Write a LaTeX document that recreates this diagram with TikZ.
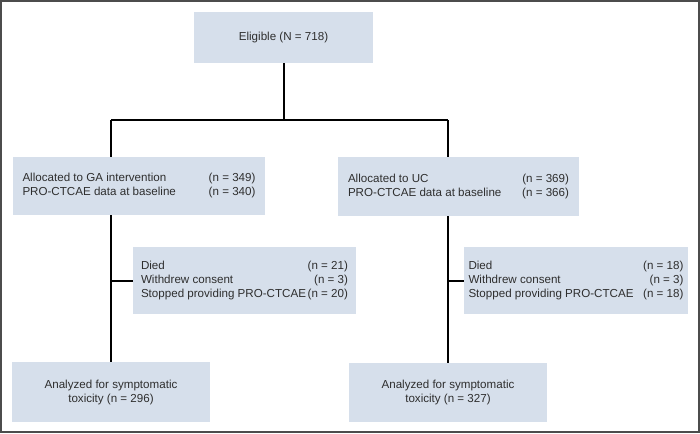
\documentclass[tikz,border=0pt]{standalone}
\usepackage{fontspec}
\setmainfont{Liberation Sans}
\usetikzlibrary{backgrounds}
\definecolor{boxfill}{HTML}{D6DFEB}
\definecolor{txt}{HTML}{2E2E2E}
\begin{document}
\begin{tikzpicture}[x=0.75pt,y=-0.75pt,
  box/.style={fill=boxfill, draw=none, inner sep=0pt, text=txt,
    font=\fontsize{8.7pt}{10.5pt}\selectfont, align=center},
  link/.style={draw=black, line width=1.5pt}]
\useasboundingbox (0,0) rectangle (700,433);
\draw[draw=black!70, line width=0.9pt] (1,1) rectangle (699,432);

\node[box, minimum width=134.25pt, minimum height=38.25pt] (elig) at (283.5,37.5) {Eligible (N = 718)};

\node[box, minimum width=189pt, minimum height=43.5pt] (ga) at (139,186)
  {\begin{tabular*}{174.75pt}{@{}l@{\extracolsep{\fill}}r@{}}
   Allocated to GA intervention & (n = 349)\\
   PRO-CTCAE data at baseline & (n = 340)\end{tabular*}};

\node[box, minimum width=180.75pt, minimum height=44.25pt] (uc) at (458.5,186.5)
  {\begin{tabular*}{165.75pt}{@{}l@{\extracolsep{\fill}}r@{}}
   Allocated to UC & (n = 369)\\
   PRO-CTCAE data at baseline & (n = 366)\end{tabular*}};

\node[box, minimum width=167.25pt, minimum height=50.25pt] (exl) at (244.5,280.5)
  {\begin{tabular*}{155.25pt}{@{}l@{\extracolsep{\fill}}r@{}}
   Died & (n = 21)\\
   Withdrew consent & (n = 3)\\
   Stopped providing PRO-CTCAE & (n = 20)\end{tabular*}};

\node[box, minimum width=168pt, minimum height=50.25pt] (exr) at (576,280.5)
  {\begin{tabular*}{161.25pt}{@{}l@{\extracolsep{\fill}}r@{}}
   Died & (n = 18)\\
   Withdrew consent & (n = 3)\\
   Stopped providing PRO-CTCAE & (n = 18)\end{tabular*}};

\node[box, minimum width=148.5pt, minimum height=45pt] (anl) at (111,392)
  {Analyzed for symptomatic\\toxicity (n = 296)};

\node[box, minimum width=148.5pt, minimum height=44.25pt] (anr) at (448,392.5)
  {Analyzed for symptomatic\\toxicity (n = 327)};

\coordinate (jl) at (111,120);
\coordinate (jr) at (448,120);

\begin{pgfonlayer}{background}
\draw[link] (elig.south) -- (elig.south |- jl);
\draw[link] (jl) -- (jr);
\draw[link] (jl) -- (anl.north);
\draw[link] (jr) -- (anr.north);
\draw[link] (anl.north |- exl.west) -- (exl.west);
\draw[link] (anr.north |- exr.west) -- (exr.west);
\end{pgfonlayer}
\end{tikzpicture}
\end{document}
